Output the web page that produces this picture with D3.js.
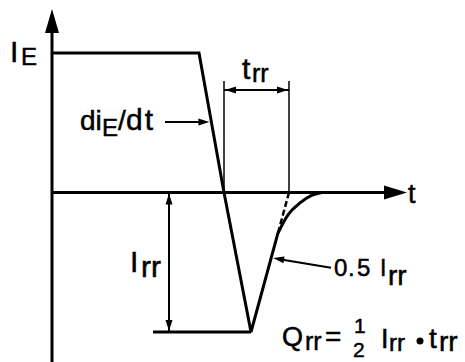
<!DOCTYPE html>
<html><head><meta charset="utf-8">
<script src="https://cdn.jsdelivr.net/npm/d3@7"></script>
<style>
html,body{margin:0;padding:0;background:#fff;}
svg{display:block;}
text{font-family:"Liberation Sans",Arial,Helvetica,sans-serif;fill:#000;stroke:#000;stroke-width:0.5px;}
</style></head>
<body>
<svg id="chart" width="465" height="362"></svg>
<script>
// ---- data (schematic reverse-recovery waveform, normalised units) ----
const fallT = [0, 1.47, 1.72, 1.99, 2.26];        // time
const fallI = [1, 1, 0, -1, -0.29];                 // current (IE = 1, Irr = 1)
const recT  = [2.26, 2.36, 2.48, 2.59, 2.70];
const recI  = [-0.29, -0.16, -0.075, -0.022, 0];
const dashT = [2.26, 2.37];
const dashI = [-0.29, 0];
const trrBounds = [1.72, 2.37];                     // zero crossing -> extrapolated zero
const trrLevel = 0.735, trrTop = 0.80;
const irrT = 1.17, irrRefT = [1.01, 1.99];
const didtArrow = {t0: 1.13, i: 0.505};
const halfIrr = {t0: 2.79, i0: -0.54, i: -0.47};

// label pieces: [text, x, y, font-size, letter-spacing]
const labelIE   = [["I", 10, 62, 30], ["E", 21, 65, 24]];
const labelDidt = [["di", 80, 130, 28], ["E", 102, 136, 24], ["/", 118, 130, 28], ["dt", 126, 130, 30, 2]];
const labelTrr  = [["t", 242, 79, 30], ["rr", 252, 82, 25]];
const labelT    = [["t", 408, 203, 27]];
const labelIrr  = [["I", 130, 272, 30], ["rr", 141, 277, 30]];
const labelHalf = [["0", 334, 276, 24], [".", 348, 276, 24], ["5", 357, 276, 24], ["I", 380, 276, 23], ["rr", 388, 285, 28]];
const labelQrr  = [["Q", 282, 346, 27], ["rr", 305, 350, 25], ["=", 325, 346, 28],
                   ["1", 354, 333, 21], ["2", 353, 357, 21],
                   ["I", 381, 348, 27], ["rr", 389, 351, 24],
                   ["t", 429, 348, 28], ["rr", 439, 351, 28]];

const svg = d3.select("#chart");
const x = d3.scaleLinear().domain([0, 3.55]).range([52, 407]);
const y = d3.scaleLinear().domain([-1, 1]).range([332, 53]);

function head(g, tx, ty, ang, len, hw) {
  const c = Math.cos(ang), s = Math.sin(ang);
  const bx = tx - c*len, by = ty - s*len;
  g.append("path")
    .attr("d", `M${tx},${ty}L${bx - s*hw},${by + c*hw}L${bx + s*hw},${by - c*hw}Z`)
    .attr("fill", "#000");
}
function seg(g, x1, y1, x2, y2, w, dash) {
  const l = g.append("line").attr("x1", x1).attr("y1", y1).attr("x2", x2).attr("y2", y2)
    .attr("stroke", "#000").attr("stroke-width", w);
  if (dash) l.attr("stroke-dasharray", dash);
  return l;
}
function label(g, parts) {
  const t = g.append("text");
  t.selectAll("tspan").data(parts).join("tspan")
    .attr("x", d => d[1]).attr("y", d => d[2]).attr("font-size", d => d[3])
    .attr("letter-spacing", d => d[4] || null)
    .text(d => d[0]);
  return t;
}

const g = svg.append("g");

// axes
seg(g, x(0), y(0), x(3.55) - 18, y(0), 3);
head(g, x(3.55), y(0), 0, 23, 7);
seg(g, x(0), 362, x(0), 30, 3);
head(g, x(0), 9, -Math.PI/2, 24, 7);

// waveform
const line = d3.line().x((d) => x(d[0])).y((d) => y(d[1]));
g.append("path").datum(fallT.map((t, i) => [t, fallI[i]]))
  .attr("d", line).attr("fill", "none").attr("stroke", "#000")
  .attr("stroke-width", 3).attr("stroke-linejoin", "miter");
g.append("path").datum(recT.map((t, i) => [t, recI[i]]))
  .attr("d", line.curve(d3.curveMonotoneX)).attr("fill", "none").attr("stroke", "#000")
  .attr("stroke-width", 3);
seg(g, x(dashT[0]), y(dashI[0]), x(dashT[1]), y(dashI[1]), 2.5, "6,3");

// trr dimension
trrBounds.forEach(t => seg(g, x(t), y(0), x(t), y(trrTop), 1.5));
seg(g, x(trrBounds[0]), y(trrLevel), x(trrBounds[1]), y(trrLevel), 2);
head(g, x(trrBounds[0]) + 1, y(trrLevel), Math.PI, 11, 3.5);
head(g, x(trrBounds[1]) - 1, y(trrLevel), 0, 11, 3.5);

// Irr dimension
seg(g, x(irrRefT[0]), y(-1), x(irrRefT[1]), y(-1), 3);
seg(g, x(irrT), y(0), x(irrT), y(-1), 2);
head(g, x(irrT), y(0) + 1, -Math.PI/2, 11, 3.5);
head(g, x(irrT), y(-1) - 1, Math.PI/2, 11, 3.5);

// diE/dt arrow
const fallAt = (i) => fallT[1] + (1 - i) * (fallT[2] - fallT[1]);
const dTip = x(fallAt(didtArrow.i)) - 2;
seg(g, x(didtArrow.t0), y(didtArrow.i), dTip - 8, y(didtArrow.i), 2);
head(g, dTip, y(didtArrow.i), 0, 11, 3.5);

// 0.5 Irr leader
const riseAt = (i) => fallT[3] + (i + 1) * (dashT[1] - fallT[3]);
const hx = x(riseAt(halfIrr.i)) + 2, hy = y(halfIrr.i);
const ang = Math.atan2(hy - y(halfIrr.i0), hx - x(halfIrr.t0));
seg(g, x(halfIrr.t0), y(halfIrr.i0), hx - Math.cos(ang)*8, hy - Math.sin(ang)*8, 2);
head(g, hx, hy, ang, 11, 3.5);

// labels
[labelIE, labelDidt, labelTrr, labelT, labelIrr, labelHalf, labelQrr].forEach(p => label(g, p));
g.append("circle").attr("cx", 420).attr("cy", 341).attr("r", 3.5).attr("fill", "#000");
</script>
</body></html>
